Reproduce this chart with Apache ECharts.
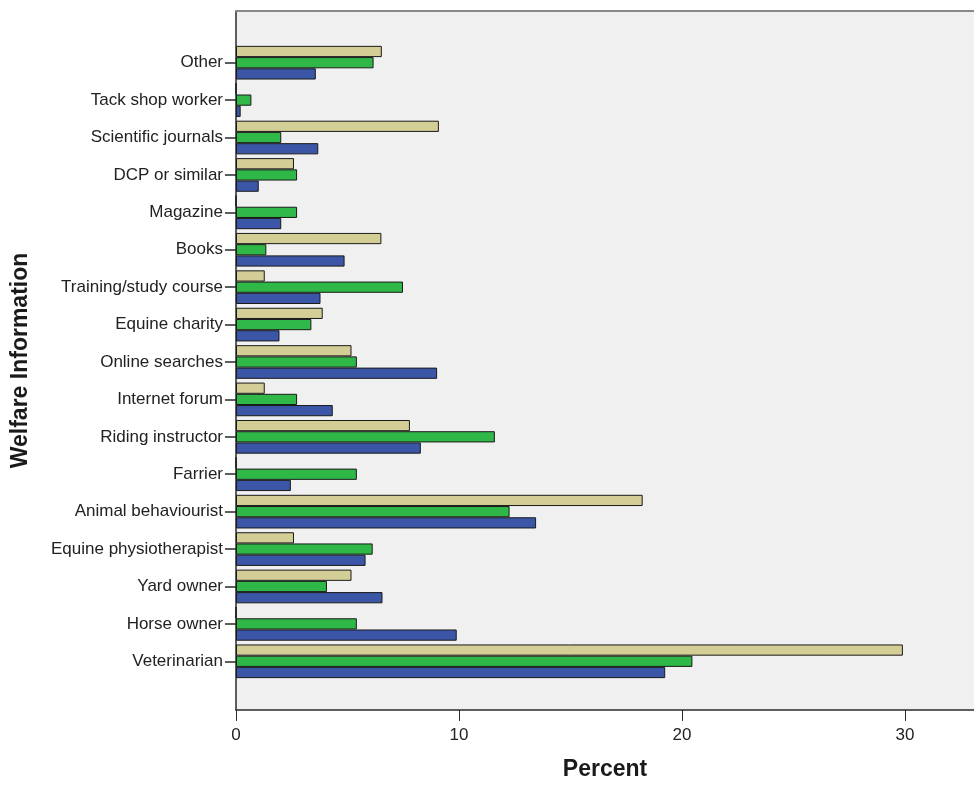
<!DOCTYPE html>
<html>
<head>
<meta charset="utf-8">
<script src="https://cdn.jsdelivr.net/npm/echarts@6/dist/echarts.min.js"></script>
<style>html,body{margin:0;padding:0;background:#fff;overflow:hidden;}#chart{width:974px;height:785px;}</style>
</head>
<body>
<div id="chart"></div>
<script>
// Categories listed top to bottom as shown
const categories = ["Other","Tack shop worker","Scientific journals","DCP or similar","Magazine","Books","Training/study course","Equine charity","Online searches","Internet forum","Riding instructor","Farrier","Animal behaviourist","Equine physiotherapist","Yard owner","Horse owner","Veterinarian"];
const tanValues   = [6.54, 0, 9.10, 2.60, 0, 6.52, 1.29, 3.89, 5.18, 1.29, 7.80, 0, 18.24, 2.60, 5.18, 0, 29.91];
const greenValues = [6.17, 0.69, 2.03, 2.74, 2.74, 1.36, 7.49, 3.38, 5.42, 2.74, 11.61, 5.42, 12.27, 6.13, 4.08, 5.42, 20.47];
const blueValues  = [3.58, 0.21, 3.69, 1.02, 2.03, 4.87, 3.79, 1.95, 9.02, 4.34, 8.29, 2.46, 13.46, 5.81, 6.57, 9.90, 19.25];
const xTicks = [0, 10, 20, 30];
const xMax = 33.1;

const FONT = "'Liberation Sans', Arial, sans-serif";
const chart = echarts.init(document.getElementById('chart'), null, {renderer: 'canvas'});
const barBorder = {borderColor: '#1a1a1a', borderWidth: 1};
chart.setOption({
  animation: false,
  grid: [
    {left: 236, right: 0, top: 11, bottom: 75, show: true, backgroundColor: '#f0f0f0', borderWidth: 0, borderColor: 'transparent', outerBoundsMode: 'none', containLabel: false},
    {left: 236, right: 0, top: 44, bottom: 105, outerBoundsMode: 'none', containLabel: false}
  ],
  xAxis: [
    {
      gridIndex: 0, type: 'value', min: 0, max: xMax, interval: 10,
      name: 'Percent', nameLocation: 'middle', nameGap: 48,
      nameTextStyle: {fontFamily: FONT, fontSize: 23, fontWeight: 'bold', color: '#1a1a1a'},
      axisLine: {show: true, lineStyle: {color: '#2a2a2a', width: 1.5}},
      axisTick: {show: true, length: 11, lineStyle: {color: '#2a2a2a'}},
      axisLabel: {
        margin: 17, fontFamily: FONT, fontSize: 17, color: '#222', showMaxLabel: false,
        formatter: v => xTicks.indexOf(v) >= 0 ? String(v) : ''
      },
      splitLine: {show: false}
    },
    {
      gridIndex: 0, type: 'value', position: 'top', min: 0, max: xMax,
      axisLine: {show: true, lineStyle: {color: '#888', width: 2}},
      axisTick: {show: false}, axisLabel: {show: false}, splitLine: {show: false}
    },
    {
      gridIndex: 1, type: 'value', min: 0, max: xMax, show: false
    }
  ],
  yAxis: [
    {
      gridIndex: 0, type: 'value', min: 0, max: 1,
      name: 'Welfare Information', nameLocation: 'middle', nameGap: 204, nameRotate: 90,
      nameTextStyle: {fontFamily: FONT, fontSize: 23, fontWeight: 'bold', color: '#1a1a1a'},
      axisLine: {show: true, lineStyle: {color: '#2a2a2a', width: 1.5}},
      axisTick: {show: false}, axisLabel: {show: false}, splitLine: {show: false}
    },
    {
      gridIndex: 1, type: 'category', data: categories, inverse: true,
      axisLine: {show: false},
      axisTick: {show: true, alignWithLabel: true, length: 11, lineStyle: {color: '#2a2a2a', width: 1.5}},
      axisLabel: {margin: 13, fontFamily: FONT, fontSize: 17, color: '#222'},
      splitLine: {show: false}
    }
  ],
  series: [
    {type: 'bar', xAxisIndex: 2, yAxisIndex: 1, data: tanValues, barGap: '0%', barCategoryGap: '10%',
     itemStyle: Object.assign({color: '#d3cd96'}, barBorder)},
    {type: 'bar', xAxisIndex: 2, yAxisIndex: 1, data: greenValues, barGap: '0%', barCategoryGap: '10%',
     itemStyle: Object.assign({color: '#2fb747'}, barBorder)},
    {type: 'bar', xAxisIndex: 2, yAxisIndex: 1, data: blueValues, barGap: '0%', barCategoryGap: '10%',
     itemStyle: Object.assign({color: '#3b55a7'}, barBorder)}
  ]
});
</script>
</body>
</html>
